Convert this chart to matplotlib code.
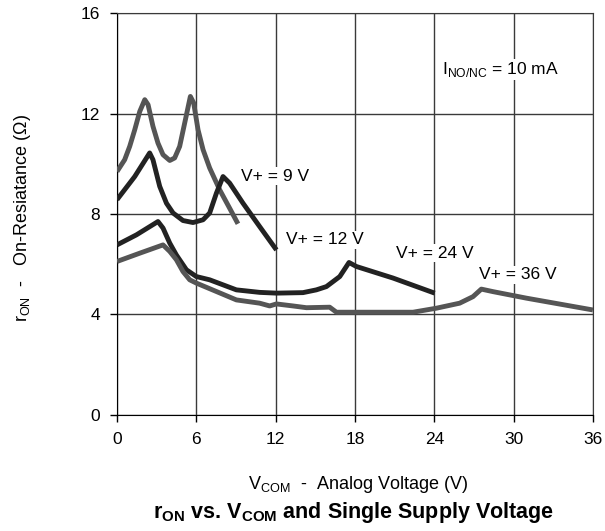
import matplotlib
matplotlib.use('Agg')
import matplotlib.pyplot as plt

plt.rcParams['font.family'] = ['Liberation Sans', 'DejaVu Sans']
plt.rcParams['mathtext.fontset'] = 'custom'
plt.rcParams['mathtext.rm'] = 'Liberation Sans'
plt.rcParams['mathtext.bf'] = 'Liberation Sans:bold'
plt.rcParams['font.size'] = 12.5

# V+ = 9 V
x_9 = [0, 0.58, 0.96, 1.34, 1.72, 2.10, 2.35, 2.72, 3.10, 3.48, 3.99, 4.36, 4.74, 5.12,
       5.55, 5.80, 6.13, 6.51, 7.01, 7.77, 8.52, 9.15]
y_9 = [9.69, 10.16, 10.69, 11.35, 12.08, 12.55, 12.35, 11.49, 10.82, 10.36, 10.13, 10.23,
       10.69, 11.62, 12.68, 12.42, 11.35, 10.56, 9.83, 8.96, 8.23, 7.61]

# V+ = 12 V
x_12 = [0, 1.34, 2.47, 2.72, 3.23, 3.74, 4.24, 4.99, 5.75, 6.51, 7.01, 7.52, 8.02, 8.52,
        9.53, 10.79, 12.06]
y_12 = [8.57, 9.49, 10.43, 10.16, 9.10, 8.43, 8.04, 7.74, 7.66, 7.77, 8.04, 8.83, 9.49,
        9.23, 8.43, 7.50, 6.57]

# V+ = 24 V
x_24 = [0, 1.47, 3.10, 3.48, 3.99, 4.49, 5.25, 6.0, 7.01, 9.03, 10.79, 12.06, 14.07,
        15.08, 15.84, 16.85, 17.55, 18.11, 20.88, 24.03]
y_24 = [6.77, 7.17, 7.70, 7.44, 6.84, 6.37, 5.78, 5.51, 5.38, 4.98, 4.88, 4.85, 4.87,
        4.98, 5.11, 5.51, 6.07, 5.91, 5.45, 4.85]

# V+ = 36 V
x_36 = [0, 1.72, 3.48, 3.99, 4.49, 4.99, 5.50, 6.0, 9.03, 10.79, 11.55, 12.06, 13.31,
        14.33, 16.09, 16.6, 22.39, 24.16, 25.92, 26.93, 27.56, 28.44, 30.97, 36.0]
y_36 = [6.11, 6.44, 6.77, 6.51, 6.18, 5.71, 5.38, 5.25, 4.58, 4.45, 4.34, 4.42, 4.34,
        4.27, 4.29, 4.09, 4.09, 4.25, 4.45, 4.71, 5.01, 4.91, 4.65, 4.18]

x_ticks = [0, 6, 12, 18, 24, 30, 36]
y_ticks = [0, 4, 8, 12, 16]

fig = plt.figure(figsize=(6.05, 5.31), dpi=100)
ax = fig.add_axes([0.1934, 0.2185, 0.7866, 0.757])

gris = '#555555'
fonce = '#222222'

style = dict(lw=3.5, solid_capstyle='butt', solid_joinstyle='round', zorder=3)
ax.plot(x_9, y_9, color=gris, **style)
ax.plot(x_12, y_12, color=fonce, **style)
ax.plot(x_24, y_24, color=fonce, **style)
ax.plot(x_36, y_36, color=gris, **style)

ax.set_xlim(0, 36)
ax.set_ylim(0, 16)
ax.set_xticks(x_ticks)
ax.set_yticks(y_ticks)
ax.grid(True, color='#3a3a3a', lw=1.0)
ax.set_axisbelow(True)
ax.tick_params(direction='out', length=5, width=1, colors='black', pad=7)

for s in ['top', 'right']:
    ax.spines[s].set_color('#3a3a3a')
for s in ['left', 'bottom']:
    ax.spines[s].set_color('black')

boite = dict(facecolor='white', edgecolor='none', pad=1)
ax.text(9.4, 9.5, 'V+ = 9 V', ha='left', va='center', fontsize=12.5, bbox=boite, zorder=2)
ax.text(12.8, 6.97, 'V+ = 12 V', ha='left', va='center', fontsize=12.5, bbox=boite, zorder=2)
ax.text(21.1, 6.44, 'V+ = 24 V', ha='left', va='center', fontsize=12.5, bbox=boite, zorder=2)
ax.text(27.4, 5.58, 'V+ = 36 V', ha='left', va='center', fontsize=12.5, bbox=boite, zorder=2)
ax.text(24.6, 13.75, r'I$_{\mathrm{NO/NC}}$ = 10 mA', ha='left', va='center', fontsize=12.5,
        bbox=boite, zorder=2)

fig.text(0.592, 0.088, r'V$_{\mathrm{COM}}$  -  Analog Voltage (V)', ha='center', va='center',
         fontsize=13)
fig.text(0.037, 0.589, r'r$_{\mathrm{ON}}$  -   On-Resiatance ($\Omega$)', ha='center', va='center',
         rotation=90, fontsize=13)
fig.text(0.585, 0.034, r'r$_{\mathbf{ON}}$ vs. V$_{\mathbf{COM}}$ and Single Supply Voltage',
         ha='center', va='center', fontweight='bold', fontsize=15.5)

fig.savefig('out.png', dpi=100)
